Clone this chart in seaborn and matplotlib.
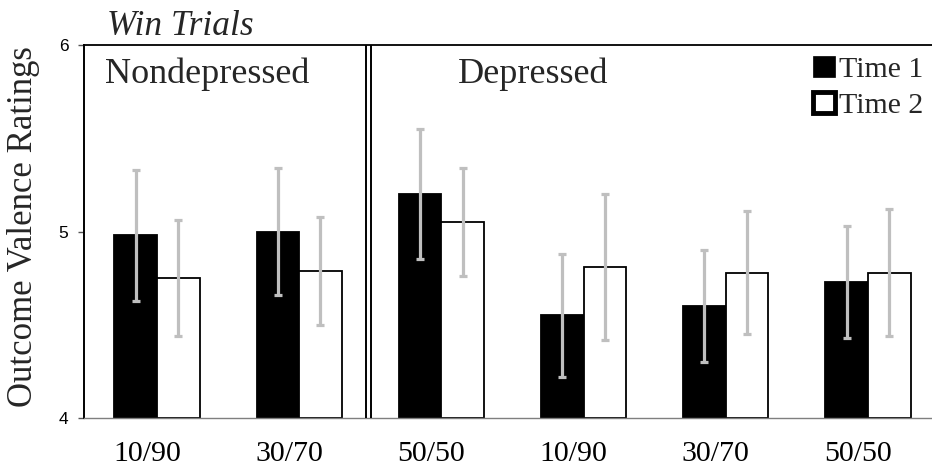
import matplotlib
matplotlib.use("Agg")
import matplotlib.pyplot as plt
import matplotlib.transforms as mtransforms
from matplotlib.patches import Patch
import numpy as np
import pandas as pd
import seaborn as sns

# ---- data ----
conditions = ["10/90", "30/70", "50/50", "10/90", "30/70", "50/50"]
groups = ["Nondepressed", "Depressed"]
time_labels = ["Time 1", "Time 2"]
time1 = [4.98, 5.00, 5.20, 4.55, 4.60, 4.73]
time2 = [4.75, 4.79, 5.05, 4.81, 4.78, 4.78]
err1 = [0.35, 0.34, 0.35, 0.33, 0.30, 0.30]
err2 = [0.31, 0.29, 0.29, 0.39, 0.33, 0.34]
y_ticks = [4, 5, 6]

slots = [f"s{i}" for i in range(len(conditions))]
df = pd.DataFrame({
    "slot": slots * 2,
    "time": [time_labels[0]] * len(slots) + [time_labels[1]] * len(slots),
    "value": time1 + time2,
})

sns.set_theme(style="white")
plt.rcParams["font.family"] = ["Liberation Serif", "DejaVu Serif"]

fig = plt.figure(figsize=(9.32, 4.70), dpi=100)
ax = fig.add_axes([84 / 932, 52 / 470, 1 - 84 / 932, (418 - 45) / 470])

sns.barplot(data=df, x="slot", y="value", hue="time", order=slots,
            hue_order=time_labels,
            palette={"Time 1": "black", "Time 2": "white"},
            edgecolor="black", linewidth=1.3, width=0.6,
            errorbar=None, legend=False, ax=ax)

ymin = y_ticks[0]
errs = [err1, err2]
for cont, e in zip(ax.containers, errs):
    xs, ys = [], []
    for p in cont.patches:
        h = p.get_height()
        p.set_y(ymin)
        p.set_height(h - ymin)
        p.set_clip_on(False)
        xs.append(p.get_x() + p.get_width() / 2)
        ys.append(h)
    ax.errorbar(xs, ys, yerr=e, fmt="none", ecolor="#BFBFBF",
                elinewidth=2.3, capsize=2.6, capthick=2.3, zorder=5)

ax.set_xlim(-0.513, 5.45)
ax.set_ylim(4, 6)
ax.set_yticks(y_ticks)
ax.set_yticklabels([str(t) for t in y_ticks], fontfamily="Liberation Sans",
                   fontsize=12.5, color="black")
ax.tick_params(axis="y", left=True, length=4.3, width=1, color="#555555", pad=7)
ax.set_xticks(range(len(conditions)))
ax.set_xticklabels(conditions, fontsize=21.5, color="black")
ax.tick_params(axis="x", bottom=False, pad=10.5)
offset = mtransforms.ScaledTranslation(-10 / 100, 0, fig.dpi_scale_trans)
for lab in ax.get_xticklabels():
    lab.set_transform(lab.get_transform() + offset)

ax.set_xlabel("")
ax.set_ylabel("")

ax.spines["right"].set_visible(False)
ax.spines["left"].set_color("black")
ax.spines["left"].set_linewidth(1.4)
ax.spines["top"].set_color("black")
ax.spines["top"].set_linewidth(1.3)
ax.spines["bottom"].set_color("#7f7f7f")
ax.spines["bottom"].set_linewidth(1.0)

# double divider between groups
ax.axvline(1.467, color="black", lw=1.4, zorder=4)
ax.axvline(1.503, color="black", lw=1.4, zorder=4)

# group labels
ax.text(-0.366, 5.796, groups[0], fontsize=26, ha="left", va="baseline")
ax.text(2.117, 5.796, groups[1], fontsize=26, ha="left", va="baseline")

# title and y label
fig.text(107 / 932, 1 - 35 / 470, "Win Trials", fontsize=25.5, style="italic",
         ha="left", va="baseline")
fig.text(24 / 932, 1 - 227 / 470, "Outcome Valence Ratings", fontsize=25,
         rotation=90, ha="center", va="center")

handles = [Patch(facecolor="black", edgecolor="black", linewidth=0.5),
           Patch(facecolor="white", edgecolor="black", linewidth=3.5)]
ax.legend(handles, time_labels, loc="upper left",
          bbox_to_anchor=(813 / 932, 1 - 56 / 470), bbox_transform=fig.transFigure,
          frameon=False, fontsize=21.5, handlelength=0.72, handleheight=0.72,
          handletextpad=0.15, labelspacing=0.3, borderpad=0, borderaxespad=0)

fig.savefig("out.png", dpi=100)
